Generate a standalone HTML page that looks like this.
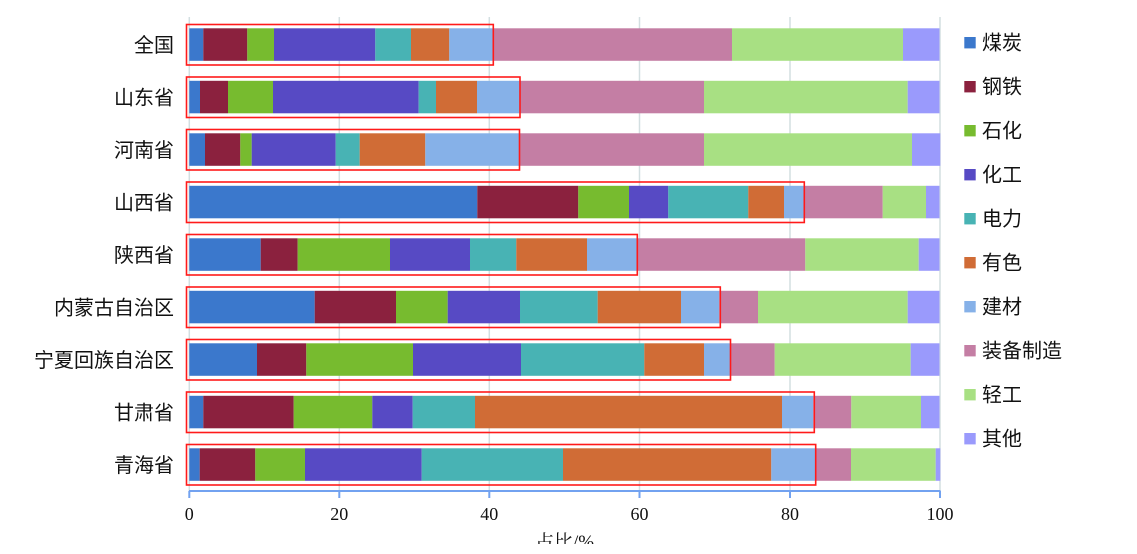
<!DOCTYPE html>
<html><head><meta charset="utf-8"><style>
html,body{margin:0;padding:0;background:#fff;}
svg{display:block;}
.lab{font-family:"Liberation Sans","Noto Sans CJK SC",sans-serif;font-size:20px;fill:#111;}
.tk{font-family:"Liberation Serif","Noto Serif CJK SC",serif;font-size:18px;fill:#111;}
.ax{font-family:"Liberation Serif","Noto Serif CJK SC",serif;font-size:19px;fill:#111;}
</style></head><body>
<svg width="1137" height="554" viewBox="0 0 1137 554" xmlns="http://www.w3.org/2000/svg">
<defs><clipPath id="cb"><rect x="0" y="0" width="1137" height="544"/></clipPath></defs>
<rect width="1137" height="554" fill="#fff"/>
<g stroke="#d3dfe1" stroke-width="1.5">
<line x1="189.3" y1="17" x2="189.3" y2="491"/>
<line x1="339.3" y1="17" x2="339.3" y2="491"/>
<line x1="489.3" y1="17" x2="489.3" y2="491"/>
<line x1="639.5" y1="17" x2="639.5" y2="491"/>
<line x1="790" y1="17" x2="790" y2="491"/>
<line x1="940" y1="17" x2="940" y2="491"/>
</g>
<g id="bars"></g>
<g fill="none" stroke="#ff1a1a" stroke-width="1.6" id="boxes"></g>
<g stroke="#72a2f0" stroke-width="2">
<line x1="189" y1="491" x2="940.5" y2="491"/>
<line x1="189.3" y1="491" x2="189.3" y2="498"/>
<line x1="339.3" y1="491" x2="339.3" y2="498"/>
<line x1="489.3" y1="491" x2="489.3" y2="498"/>
<line x1="639.5" y1="491" x2="639.5" y2="498"/>
<line x1="790" y1="491" x2="790" y2="498"/>
<line x1="940" y1="491" x2="940" y2="498"/>
</g>
<g class="tk" text-anchor="middle">
<text x="189.3" y="520">0</text>
<text x="339.3" y="520">20</text>
<text x="489.3" y="520">40</text>
<text x="639.5" y="520">60</text>
<text x="790" y="520">80</text>
<text x="940" y="520">100</text>
</g>
<text class="ax" x="535" y="548" clip-path="url(#cb)">占比/%</text>
<g class="lab" text-anchor="end">
<text x="174" y="52">全国</text>
<text x="174" y="104.5">山东省</text>
<text x="174" y="157">河南省</text>
<text x="174" y="209.5">山西省</text>
<text x="174" y="262">陕西省</text>
<text x="174" y="314.5">内蒙古自治区</text>
<text x="174" y="367">宁夏回族自治区</text>
<text x="174" y="419.5">甘肃省</text>
<text x="174" y="472">青海省</text>
</g>
<g id="legend"></g>
<script>
var colors=["#3b78cc","#8b213e","#77bb2f","#574ac4","#48b3b4","#d06c36","#86b1e8","#c47ea4","#a8e083","#9a9afc"];
var names=["煤炭","钢铁","石化","化工","电力","有色","建材","装备制造","轻工","其他"];
var rows=[
[189.3,203.3,247.3,274,375.3,411,449.3,493.3,732,903,939.5],
[189.3,200,228,273,418.7,436,477,520,704,907.7,939.5],
[189.3,205,240.3,251.7,335.7,359.7,425.3,519,704,912,940.3],
[189.3,477.3,578.3,629,668.3,748.3,784,804.3,882.7,926,939.5],
[189.3,260.7,297.7,390,470,516.3,587,637.3,805.3,918.7,939.5],
[189.3,314.7,396,447.7,520,597.7,681,719.3,758,907.7,939.5],
[189.3,257,306.3,413,521,644.3,704,730,774.7,910.7,939.5],
[189.3,203.3,293.7,372.3,412.7,475,782,813.3,851.3,921,939.5],
[189.3,199.7,255.3,305,421.7,563,771.3,815.3,851,935.7,940.3]];
var boxR=[493.3,520,519.5,804.3,637.3,720.3,730.5,814.3,815.7];
var NS="http://www.w3.org/2000/svg";
var bars=document.getElementById("bars"),boxes=document.getElementById("boxes"),leg=document.getElementById("legend");
function el(n,a,p){var e=document.createElementNS(NS,n);for(var k in a)e.setAttribute(k,a[k]);p.appendChild(e);return e;}
rows.forEach(function(r,i){
 var y=28.3+52.5*i;
 for(var j=0;j<10;j++){el("rect",{x:r[j],y:y,width:r[j+1]-r[j],height:32.5,fill:colors[j]},bars);}
 el("rect",{x:186.5,y:y-3.8,width:boxR[i]-186.5,height:40.5},boxes);
});
for(var i=0;i<10;i++){
 var cy=42.7+44*i;
 el("rect",{x:964.3,y:cy-5.7,width:11.4,height:11.4,fill:colors[i]},leg);
 var t=el("text",{x:982,y:cy+7,"class":"lab"},leg);t.textContent=names[i];
}
</script>
</svg>
</body></html>
